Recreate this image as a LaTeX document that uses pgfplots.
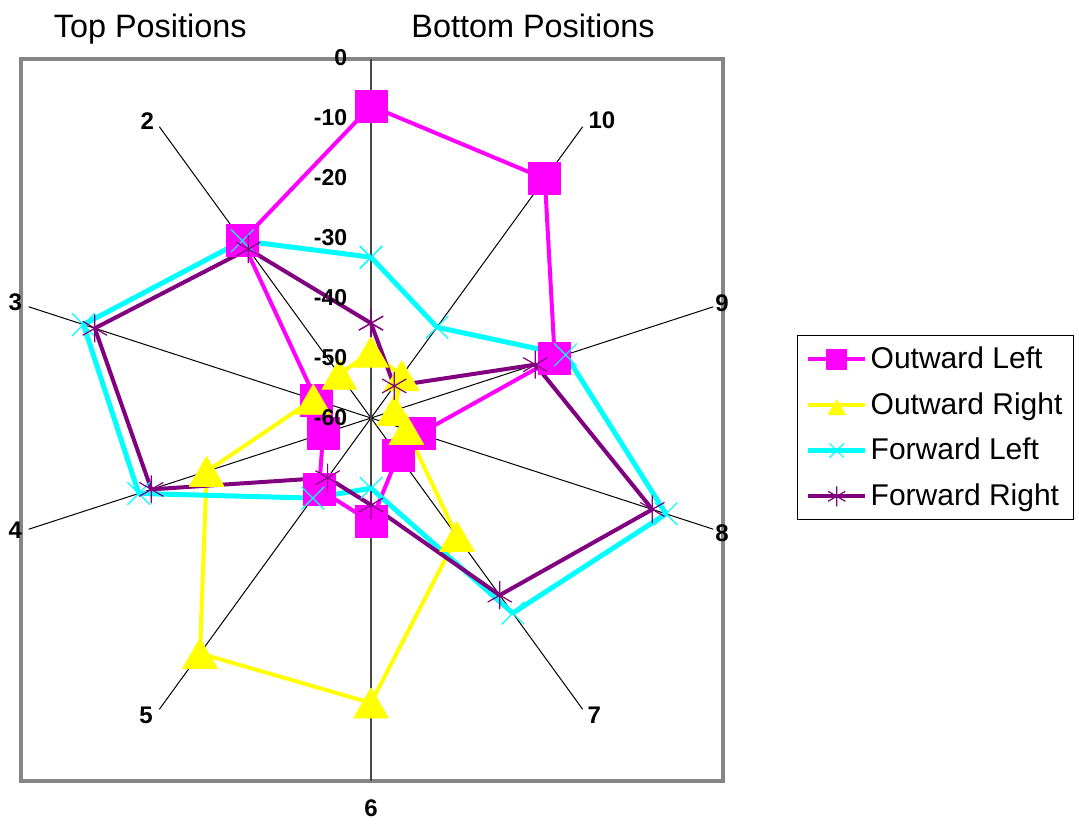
\documentclass[border=0pt]{standalone}
\usepackage{pgfplots}
\pgfplotsset{compat=1.18}
\usepackage{pgfplotstable}
\usepackage{fontspec}
\setmainfont{Liberation Sans}
\definecolor{frame}{RGB}{134,134,134}
\definecolor{axisgray}{RGB}{70,70,70}
\definecolor{olc}{RGB}{255,0,255}
\definecolor{orc}{RGB}{255,255,0}
\definecolor{flc}{RGB}{0,255,255}
\definecolor{frc}{RGB}{128,0,128}

% spoke k, values of the four series (radial axis from -60 at centre to 0 at rim)
\pgfplotstableread{
k   OL     OR     FL     FR
1   -8.0   -49.0  -33.2  -44.2
2   -23.5  -51.0  -23.5  -25.2
3   -50.4  -49.9  -9.6   -11.6
4   -51.6  -31.2  -19.3  -21.5
5   -45.3  -11.5  -43.5  -47.7
6   -42.7  -12.5  -48.3  -45.5
7   -52.3  -35.6  -19.8  -23.5
8   -51.5  -53.8  -8.3   -10.7
9   -27.8  -55.9  -25.9  -31.2
10  -10.7  -51.3  -41.3  -53.4
11  -8.0   -49.0  -33.2  -44.2
}\radar

\begin{document}
\begin{tikzpicture}
\begin{axis}[
  scale only axis,
  width=351pt, height=361pt,
  xmin=-58.33, xmax=58.67, ymin=-60.5, ymax=59.83,
  axis line style={draw=frame, line width=2pt},
  ticks=none,
  clip=false,
  legend style={at={(1.1054,0.6177)}, anchor=north west, draw=black, line width=0.7pt,
    font=\fontsize{15}{16}\selectfont, row sep=7.5pt, inner xsep=4pt, inner ysep=4pt,
    nodes={inner sep=1.5pt}},
  legend cell align=left,
  legend image code/.code={\draw[mark repeat=2,mark phase=2] plot coordinates {(0pt,0pt)(14.25pt,0pt)(28.5pt,0pt)};},
  legend image post style={mark size=5pt},
  after end axis/.code={
    \node[anchor=east, inner sep=0pt, font=\fontsize{11.5}{12}\selectfont\bfseries] at (axis cs:-3.9,60) {0};
    \node[anchor=east, inner sep=0pt, font=\fontsize{11.5}{12}\selectfont\bfseries] at (axis cs:-3.9,50) {-10};
    \node[anchor=east, inner sep=0pt, font=\fontsize{11.5}{12}\selectfont\bfseries] at (axis cs:-3.9,40) {-20};
    \node[anchor=east, inner sep=0pt, font=\fontsize{11.5}{12}\selectfont\bfseries] at (axis cs:-3.9,30) {-30};
    \node[anchor=east, inner sep=0pt, font=\fontsize{11.5}{12}\selectfont\bfseries] at (axis cs:-3.9,20) {-40};
    \node[anchor=east, inner sep=0pt, font=\fontsize{11.5}{12}\selectfont\bfseries] at (axis cs:-3.9,10) {-50};
    \node[anchor=east, inner sep=0pt, font=\fontsize{11.5}{12}\selectfont\bfseries] at (axis cs:-3.9,0) {-60};
  },
]
% spokes
\draw[black, line width=0.5pt] (axis cs:0,0) -- (axis cs:-35.27,48.54);
\draw[black, line width=0.5pt] (axis cs:0,0) -- (axis cs:-57.06,18.54);
\draw[black, line width=0.5pt] (axis cs:0,0) -- (axis cs:-57.06,-18.54);
\draw[black, line width=0.5pt] (axis cs:0,0) -- (axis cs:-35.27,-48.54);
\draw[black, line width=0.5pt] (axis cs:0,0) -- (axis cs:35.27,-48.54);
\draw[black, line width=0.5pt] (axis cs:0,0) -- (axis cs:57.06,-18.54);
\draw[black, line width=0.5pt] (axis cs:0,0) -- (axis cs:57.06,18.54);
\draw[black, line width=0.5pt] (axis cs:0,0) -- (axis cs:35.27,48.54);
\draw[axisgray, line width=1pt] (axis cs:0,59.83) -- (axis cs:0,-60.5);

\addplot[olc, line width=2pt, line join=round, mark=square*, mark size=8pt, mark options={fill=olc, draw=olc, line width=0.4pt}]
  table[x expr={(\thisrow{OL}+60)*cos(90+36*(\thisrow{k}-1))}, y expr={(\thisrow{OL}+60)*sin(90+36*(\thisrow{k}-1))}] {\radar};
\addplot[orc, line width=2pt, line join=round, mark=triangle*, mark size=10pt, mark options={fill=orc, draw=orc, line width=0.4pt, yshift=-2.5pt}]
  table[x expr={(\thisrow{OR}+60)*cos(90+36*(\thisrow{k}-1))}, y expr={(\thisrow{OR}+60)*sin(90+36*(\thisrow{k}-1))}] {\radar};
\addplot[flc, line width=2.5pt, line join=round, mark=x, mark size=8pt, mark options={draw=flc, line width=0.6pt}]
  table[x expr={(\thisrow{FL}+60)*cos(90+36*(\thisrow{k}-1))}, y expr={(\thisrow{FL}+60)*sin(90+36*(\thisrow{k}-1))}] {\radar};
\addplot[frc, line width=2pt, line join=round, mark=asterisk, mark size=7pt, mark options={draw=frc, line width=0.6pt}]
  table[x expr={(\thisrow{FR}+60)*cos(90+36*(\thisrow{k}-1))}, y expr={(\thisrow{FR}+60)*sin(90+36*(\thisrow{k}-1))}] {\radar};
\legend{Outward Left, Outward Right, Forward Left, Forward Right}

% spoke labels
\node[font=\fontsize{12}{13}\selectfont\bfseries, inner sep=0pt] at (axis cs:-37.3,49.5) {2};
\node[font=\fontsize{12}{13}\selectfont\bfseries, inner sep=0pt] at (axis cs:-59.3,19.3) {3};
\node[font=\fontsize{12}{13}\selectfont\bfseries, inner sep=0pt] at (axis cs:-59.3,-18.7) {4};
\node[font=\fontsize{12}{13}\selectfont\bfseries, inner sep=0pt] at (axis cs:-37.5,-49.5) {5};
\node[font=\fontsize{12}{13}\selectfont\bfseries, inner sep=0pt] at (axis cs:0,-65) {6};
\node[font=\fontsize{12}{13}\selectfont\bfseries, inner sep=0pt] at (axis cs:37.2,-49.5) {7};
\node[font=\fontsize{12}{13}\selectfont\bfseries, inner sep=0pt] at (axis cs:58.5,-19.2) {8};
\node[font=\fontsize{12}{13}\selectfont\bfseries, inner sep=0pt] at (axis cs:58.5,19.2) {9};
\node[font=\fontsize{12}{13}\selectfont\bfseries, inner sep=0pt] at (axis cs:38.5,49.6) {10};
% titles
\node[anchor=base, font=\fontsize{16.2}{17}\selectfont] at (axis cs:-36.8,63.4) {Top Positions};
\node[anchor=base, font=\fontsize{16.2}{17}\selectfont] at (axis cs:27,63.4) {Bottom Positions};

\coordinate (bbsw) at (axis cs:-61.833,-67.5);
\coordinate (bbne) at (axis cs:118,69.667);
\end{axis}
\pgfresetboundingbox
\path (bbsw) rectangle (bbne);
\end{tikzpicture}
\end{document}
